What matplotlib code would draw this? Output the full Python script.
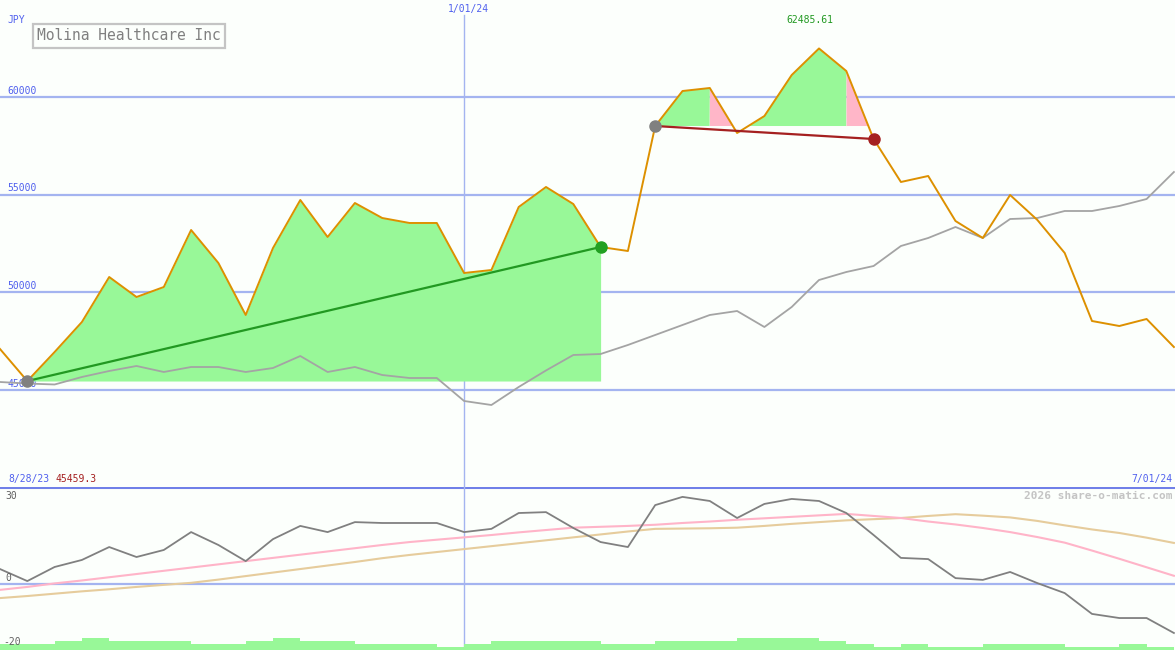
import numpy as np
import matplotlib
matplotlib.use("Agg")
import matplotlib.pyplot as plt

# weekly closes (JPY) and comparison line
price = [47099, 45459.3, 46945, 48481, 50785, 49761, 50273, 53191, 51502, 48840,
         52270, 54727, 52833, 54573, 53806, 53550, 53550, 50990, 51143, 54369,
         55393, 54522, 52321, 52116, 58515, 60307, 60461, 58157, 59027, 61126,
         62485.61, 61331, 57850, 55649, 55956, 53652, 52782, 54983, 53703, 52014,
         48532, 48276, 48635, 47201]
compare = [45410, 45330, 45282, 45666, 45973, 46229, 45922, 46177, 46177, 45922,
           46126, 46740, 45922, 46177, 45768, 45614, 45614, 44437, 44232, 45154,
           46000, 46792, 46843, 47304, 47816, 48328, 48840, 49044, 48225, 49249,
           50631, 51041, 51348, 52372, 52782, 53345, 52782, 53754, 53806, 54164,
           54164, 54420, 54778, 56160]
# lower panel
momentum = [5.1, 1.0, 5.8, 8.2, 12.6, 9.2, 11.6, 17.7, 13.3, 7.8,
            15.3, 19.8, 17.7, 21.1, 20.8, 20.8, 20.8, 17.7, 18.8, 24.2,
            24.5, 19.1, 14.3, 12.6, 26.9, 29.7, 28.3, 22.5, 27.3, 29.0,
            28.3, 24.2, 16.7, 8.9, 8.5, 2.0, 1.4, 4.1, 0.3, -3.1,
            -10.2, -11.6, -11.6, -16.7]
mom_fast = [-2.0, -1.0, 0.2, 1.2, 2.3, 3.4, 4.5, 5.6, 6.7, 7.8,
            8.9, 10.0, 11.1, 12.2, 13.3, 14.3, 15.1, 15.9, 16.7, 17.6,
            18.4, 19.2, 19.5, 19.8, 20.2, 20.8, 21.3, 21.9, 22.4, 22.9,
            23.4, 23.9, 23.2, 22.5, 21.3, 20.3, 19.1, 17.7, 16.0, 14.1,
            11.4, 8.6, 5.7, 2.8]
mom_slow = [-4.8, -4.1, -3.3, -2.5, -1.8, -1.0, -0.3, 0.4, 1.5, 2.7,
            3.9, 5.1, 6.3, 7.5, 8.8, 9.9, 10.9, 11.9, 12.9, 13.9,
            14.9, 15.9, 16.9, 17.9, 18.8, 18.9, 19.0, 19.2, 19.8, 20.5,
            21.1, 21.7, 22.1, 22.5, 23.2, 23.8, 23.3, 22.7, 21.5, 20.0,
            18.6, 17.4, 15.8, 14.0]
volume = [2, 2, 3, 4, 3, 3, 3, 2, 2, 3, 4, 3, 3, 2, 2, 2, 1, 2, 3, 3, 3,
          3, 2, 2, 3, 3, 3, 4, 4, 4, 3, 2, 1, 2, 1, 1, 2, 2, 2, 1, 1, 2, 1]

yticks = [45000, 50000, 55000, 60000]
jan_idx = 17
seg1 = (1, 22)   # rising run
seg2 = (24, 32)  # falling run
seg2_down = [False, False, True, False, False, False, False, True]  # pink pieces

W, H = 1175, 650
bg = '#fcfffc'
grid = '#a4b4f0'
blue = '#5060ee'
green_fill = '#98f898'
pink_fill = '#ffb6c8'
mono = 'DejaVu Sans Mono'

x = np.arange(len(price))
p = np.array(price)

fig = plt.figure(figsize=(W / 100, H / 100), dpi=100, facecolor=bg)
ax = fig.add_axes([0, 163 / H, 1, 487 / H], facecolor=bg)
ax2 = fig.add_axes([0, 0, 1, 163 / H], facecolor=bg)
for a in (ax, ax2):
    a.set_xlim(0, W / 27.3)
    a.set_xticks([])
    a.set_yticks([])
    for s in a.spines.values():
        s.set_visible(False)
ax.set_ylim(40034, 64966)

for v in yticks:
    ax.axhline(v, color=grid, lw=1.6, zorder=1)
    ax.text(0.006, v + 60, str(v), transform=ax.get_yaxis_transform(),
            fontsize=7, family=mono, color=blue, va='bottom', zorder=1)
ax.axvline(jan_idx, ymax=(487 - 15) / 487, color=grid, lw=1, zorder=1)

# first run: fill down to the low
a0, a1 = seg1
xs = x[a0:a1 + 1]
ax.fill_between(xs, p[a0:a1 + 1], p[a0], color=green_fill, lw=0, zorder=2)

# second run: fill above the starting level, pink on the marked pieces
b0, b1 = seg2
xx = np.linspace(x[b0], x[b1], 800)
yy = np.interp(xx, x, p)
piece = np.minimum(np.floor(xx - b0).astype(int), b1 - b0 - 1)
down = np.array(seg2_down)[piece]
above = yy >= p[b0]
ax.fill_between(xx, yy, p[b0], where=above & ~down, interpolate=True,
                color=green_fill, lw=0, zorder=2)
ax.fill_between(xx, yy, p[b0], where=above & down, interpolate=True,
                color=pink_fill, lw=0, zorder=2)

ax.plot(x, compare, color='#a4a4a4', lw=1.3, zorder=3)
ax.plot(x, price, color='#dd9000', lw=1.4, zorder=4)
ax.plot([x[a0], x[a1]], [p[a0], p[a1]], color='#229922', lw=1.6, zorder=5)
ax.plot([x[b0], x[b1]], [p[b0], p[b1]], color='#a52020', lw=1.6, zorder=5)
ax.plot(x[a0], p[a0], 'o', color='#808080', ms=8, zorder=6)
ax.plot(x[a1], p[a1], 'o', color='#22a022', ms=8, zorder=6)
ax.plot(x[b0], p[b0], 'o', color='#808080', ms=8, zorder=6)
ax.plot(x[b1], p[b1], 'o', color='#a52020', ms=8, zorder=6)

# lower panel
ax2.set_ylim(-22.5, 33.07)
ax2.axhline(0, color=grid, lw=1.6, zorder=1)
ax2.axhline(33.07, color='#7080e8', lw=2.2, zorder=1)
ax2.axvline(jan_idx, color=grid, lw=1, zorder=1)
ax2.plot(x, mom_slow, color='#e6cc9c', lw=1.5, zorder=3)
ax2.plot(x, mom_fast, color='#ffb4c8', lw=1.5, zorder=3)
ax2.plot(x, momentum, color='#808080', lw=1.3, zorder=4)
axv = ax2.twinx()
axv.set_ylim(0, 163 / 3)
axv.set_axis_off()
axv.bar(x[:-1], volume, width=1.0, align='edge', color=green_fill, lw=0)

# texts
def fx(px):
    return px / W

def fy(py):
    return 1 - py / H

fig.text(fx(7), fy(20), 'JPY', fontsize=7, family=mono, color=blue, va='center')
fig.text(fx(37), fy(36), 'Molina Healthcare Inc', fontsize=10.5, family=mono,
         color='#808080', va='center',
         bbox=dict(boxstyle='square,pad=0.3', fc='none', ec='#c4c4c4', lw=1.6))
fig.text(fx(468), fy(9), '1/01/24', fontsize=7, family=mono, color=blue, ha='center', va='center')
fig.text(fx(810), fy(20), '62485.61', fontsize=7, family=mono, color='#229922', ha='center', va='center')
fig.text(fx(8), fy(479), '8/28/23', fontsize=7, family=mono, color=blue, va='center')
fig.text(fx(56), fy(479), '45459.3', fontsize=7, family=mono, color='#a52020', va='center')
fig.text(fx(1172), fy(479), '7/01/24', fontsize=7, family=mono, color=blue, ha='right', va='center')
fig.text(fx(1172), fy(496), '2026 share-o-matic.com', fontsize=8, family=mono,
         color='#c4c4c4', weight='bold', ha='right', va='center')
fig.text(fx(5), fy(496), '30', fontsize=7, family=mono, color='#606060', va='center')
fig.text(fx(5), fy(578), '0', fontsize=7, family=mono, color='#606060', va='center')
fig.text(fx(3), fy(642), '-20', fontsize=7, family=mono, color='#606060', va='center')

fig.savefig('out.png', dpi=100, facecolor=bg)
